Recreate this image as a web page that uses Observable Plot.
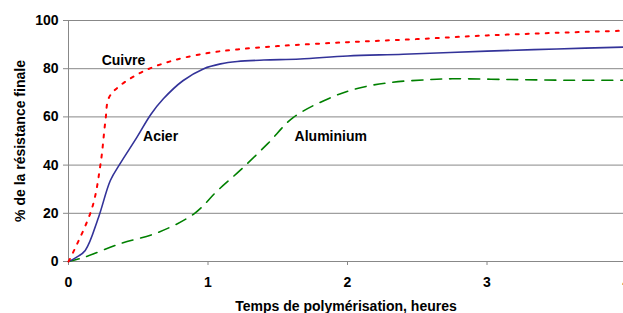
<!DOCTYPE html>
<html><head><meta charset="utf-8">
<script src="https://cdn.jsdelivr.net/npm/d3@7"></script>
<script src="https://cdn.jsdelivr.net/npm/@observablehq/plot@0.6"></script>
<style>body{margin:0;background:#fff}</style>
</head><body><div id="chart"></div>
<script>
const cuivreX = [0, 0.04, 0.17, 0.23, 0.265, 0.29, 0.37, 0.54, 0.75, 1.0, 1.21, 1.5, 2.0, 2.5, 3.0, 3.5, 4.0];
const cuivreY = [0, 4.6, 22.4, 40.6, 58.5, 68, 73, 79, 83.4, 86.5, 88, 89.4, 91, 92.3, 93.8, 94.9, 95.8];
const acierX = [0, 0.05, 0.12, 0.215, 0.30, 0.37, 0.49, 0.59, 0.68, 0.82, 0.97, 1.09, 1.21, 1.4, 1.66, 2.0, 2.4, 3.0, 3.5, 4.0];
const acierY = [0, 1.5, 4.6, 18.3, 33.6, 40.6, 51.5, 61, 67.5, 75, 80, 82, 83, 83.6, 84, 85.3, 86, 87.3, 88.2, 89];
const aluX = [0, 0.11, 0.37, 0.64, 0.9, 1.07, 1.23, 1.43, 1.61, 1.88, 2.07, 2.31, 2.57, 2.75, 3.17, 3.6, 4.0];
const aluY = [0, 1.7, 7.4, 12, 19.8, 29.5, 37.8, 49, 59.7, 68, 71.8, 74.3, 75.4, 75.8, 75.5, 75.2, 75.2];
const labelNames = ["Cuivre", "Acier", "Aluminium"];
const labelX = [0.394, 0.66, 1.88];
const labelY = [83.4, 51.9, 51.9];
const xTicks = [0, 1, 2, 3, 4];
const yTicks = [0, 20, 40, 60, 80, 100];

const toRows = (xs, ys) => xs.map((x, i) => ({x, y: ys[i]}));
const cuivre = toRows(cuivreX, cuivreY);
const acier = toRows(acierX, acierY);
const alu = toRows(aluX, aluY);
const labels = labelNames.map((name, i) => ({name, x: labelX[i], y: labelY[i]}));

const chart = Plot.plot({
  width: 623, height: 313,
  marginLeft: 68, marginRight: 0, marginTop: 20, marginBottom: 52,
  style: {fontFamily: "Liberation Sans, Arial, sans-serif", fontSize: "14px", fontWeight: "bold", color: "black", background: "white"},
  x: {domain: [0, 4], range: [68, 626]},
  y: {domain: [0, 100], range: [261, 20]},
  marks: [
    Plot.gridY(yTicks.slice(1), {stroke: "#888", strokeOpacity: 1}),
    Plot.ruleY([0], {stroke: "#888"}),
    Plot.ruleX([0], {y1: 0, y2: 100, stroke: "#888"}),
    Plot.axisY(yTicks, {tickSize: 5, tickPadding: 5, stroke: "#888", label: null, fontSize: 14, fontWeight: "bold", tickFormat: d3.format("d")}),
    Plot.axisX(xTicks, {tickSize: 4, tickPadding: 12, stroke: "#888", label: null, fontSize: 14, fontWeight: "bold", tickFormat: d3.format("d")}),
    Plot.line(alu, {x: "x", y: "y", stroke: "#008000", strokeWidth: 1.6, strokeDasharray: "11,8", curve: "catmull-rom"}),
    Plot.line(acier, {x: "x", y: "y", stroke: "#333399", strokeWidth: 1.6, curve: "catmull-rom"}),
    Plot.line(cuivre, {x: "x", y: "y", stroke: "#ff0000", strokeWidth: 2, strokeDasharray: "3,7", curve: "catmull-rom"}),
    Plot.text(labels, {x: "x", y: "y", text: "name", fontSize: 14, fontWeight: "bold", fill: "black"}),
    Plot.text(["Temps de polymérisation, heures"], {frameAnchor: "bottom", dy: 49, fontSize: 14, fontWeight: "bold", fill: "black"}),
    Plot.text(["% de la résistance finale"], {frameAnchor: "left", textAnchor: "middle", dx: -48, rotate: -90, fontSize: 14, fontWeight: "bold", fill: "black"})
  ]
});
document.getElementById("chart").appendChild(chart);
</script></body></html>
